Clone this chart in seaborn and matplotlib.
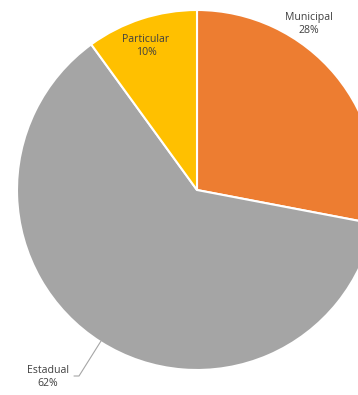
import matplotlib
matplotlib.use("Agg")
import matplotlib.pyplot as plt
import seaborn as sns

categories = ["Municipal", "Estadual", "Particular"]
shares = [28, 62, 10]
colors = ["#ED7D31", "#A5A5A5", "#FFC000"]

sns.set_theme(style="white")
plt.rcParams["font.family"] = ["Open Sans", "DejaVu Sans"]

W, H = 358, 395
cx, cy, R = 197, 190, 180

fig = plt.figure(figsize=(W / 100, H / 100), dpi=100)
ax = fig.add_axes([0, 0, 1, 1])

ax.pie(shares, colors=colors, startangle=90, counterclock=False, radius=1.0,
       wedgeprops=dict(edgecolor="white", linewidth=1.5))

# place the pie: pixel layout mapped into data units
ax.set_xlim(-cx / R, (W - cx) / R)
ax.set_ylim(-(H - cy) / R, cy / R)
ax.set_aspect("auto")
ax.axis("off")


def to_data(px, py):
    return (px - cx) / R, (cy - py) / R


label_pos = {
    "Municipal": (309, 24),
    "Particular": (146, 46),
    "Estadual": (48, 377),
}
txt_color = "#404040"
for name, val in zip(categories, shares):
    x, y = to_data(*label_pos[name])
    ax.text(x, y, f"{name}\n{val}%", ha="center", va="center",
            fontsize=7.6, color=txt_color, linespacing=1.2)

# leader line for Estadual
p0 = to_data(74, 376)
p1 = to_data(79, 376)
p2 = to_data(101, 341)
ax.plot([p0[0], p1[0], p2[0]], [p0[1], p1[1], p2[1]], color="#A6A6A6", lw=0.8)

fig.savefig("out.png", dpi=100)
